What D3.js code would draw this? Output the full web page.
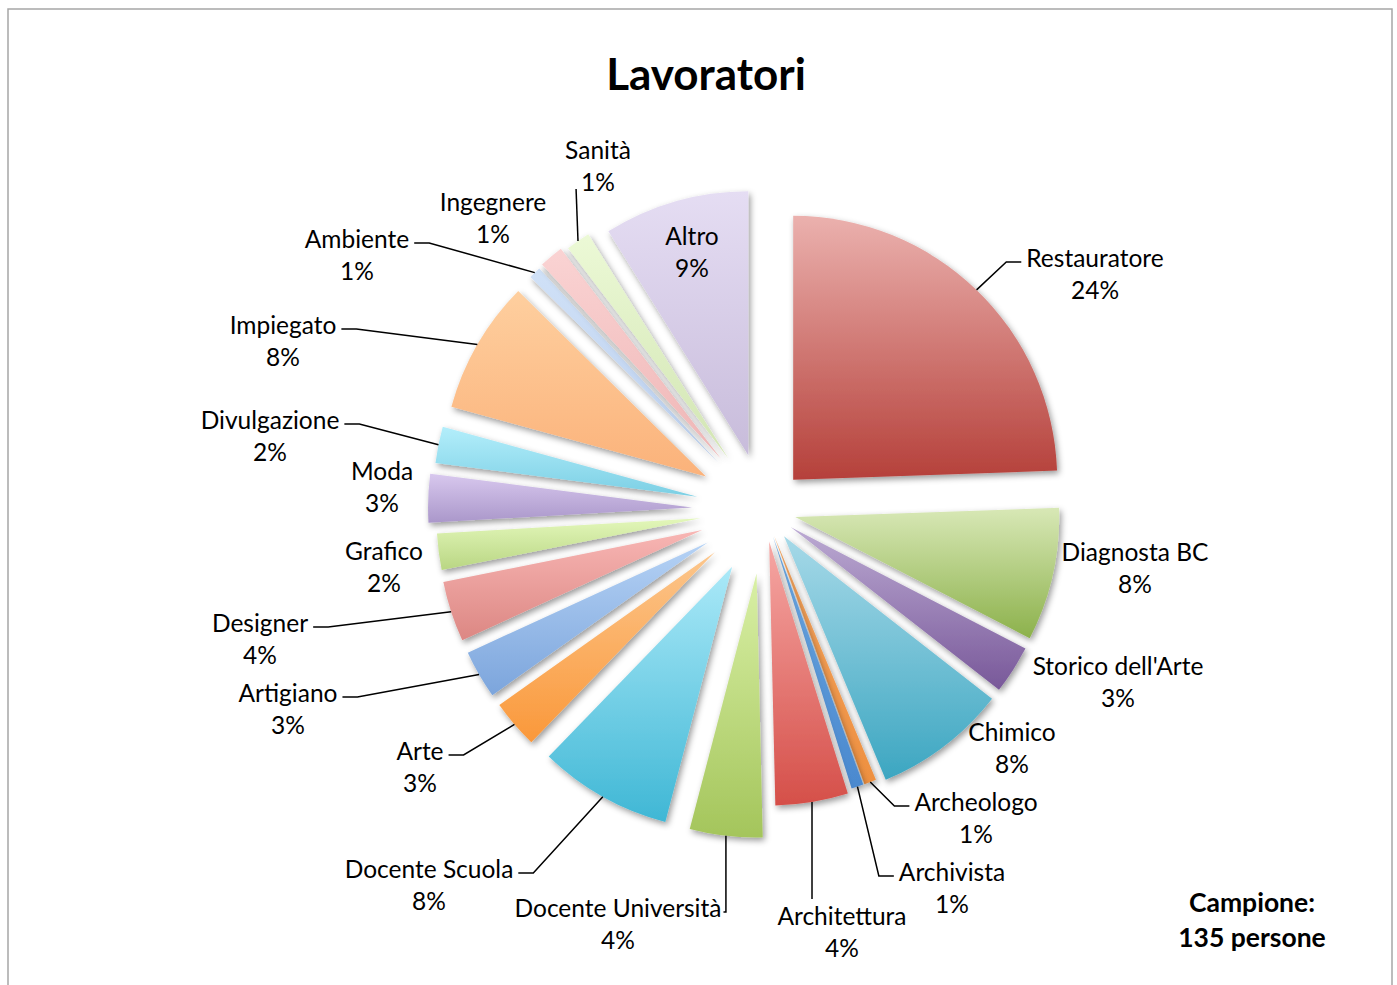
<!DOCTYPE html>
<html lang="it">
<head>
<meta charset="UTF-8">
<title>Lavoratori</title>
<script src="https://d3js.org/d3.v7.min.js"></script>
<style>
  body { margin: 0; background: #fff; }
  svg { display: block; font-family: Lato, "Open Sans", sans-serif; }
</style>
</head>
<body>
<div id="chart"></div>
<script>
// data (counts, sample = 135)
const categories = ["Restauratore", "Diagnosta BC", "Storico dell'Arte", "Chimico", "Archeologo",
  "Archivista", "Architettura", "Docente Università", "Docente Scuola", "Arte", "Artigiano",
  "Designer", "Grafico", "Moda", "Divulgazione", "Impiegato", "Ambiente", "Ingegnere", "Sanità", "Altro"];
const counts = [33, 11, 4, 11, 1, 1, 6, 6, 11, 4, 4, 5, 3, 4, 3, 11, 1, 2, 2, 12];
const titleText = "Lavoratori";
const noteLines = ["Campione:", "135 persone"];

// style
const topColors = ["#ebb1ae", "#d8e8b6", "#bcaad3", "#a6d9e8", "#f4a560", "#6aa6df", "#f6a7a4",
  "#d9f0a6", "#abe9f8", "#fcc68c", "#b5d2f5", "#f8b6b4", "#e3f7ba", "#d8c8ee", "#b3eefb",
  "#fecf9f", "#d0e1f7", "#fad3d3", "#ecf9d6", "#e5ddf3"];
const bottomColors = ["#b5403a", "#8cb14b", "#785899", "#3ca6c1", "#ee9040", "#4b89cf", "#d54f49",
  "#a4c55b", "#3fb7d5", "#fa983a", "#7ca5dc", "#dc8783", "#b9d683", "#aa97ca", "#7bcfe4",
  "#fbb27a", "#bbcfee", "#efb6b6", "#d2e5b3", "#c8bcdb"];
// per-slice explosion (px), as set in the original chart
const explode = [42, 32, 32, 33, 28, 28, 32, 64, 65, 65, 65, 65, 64, 72, 68, 67, 66, 67, 63, 57];
// label block centres (first line) and leader attachment side
const labelPos = [[1095, 259], [1135, 553], [1118, 667], [1012, 733], [976, 803], [952, 873],
  [842, 917], [618, 909], [429, 870], [420, 752], [288, 694], [260, 624], [384, 552], [382, 472],
  [270, 421], [283, 326], [357, 240], [493, 203], [598, 151], [692, 237]];
const leaderSide = ["L", null, null, null, "L", "L", "T", "R", "R", "R", "R", "R", null, null,
  "R", "R", "R", null, "B", null];

const W = 1397, H = 985;
const cx = 764, cy = 510, radius = 264;
const lineGap = 32;

const svg = d3.select("#chart").append("svg")
  .attr("width", W).attr("height", H);

const defs = svg.append("defs");
defs.append("filter").attr("id", "shadow")
  .attr("x", "-30%").attr("y", "-30%").attr("width", "160%").attr("height", "160%")
  .append("feDropShadow")
  .attr("dx", 2).attr("dy", 3).attr("stdDeviation", 3)
  .attr("flood-color", "#000").attr("flood-opacity", 0.4);

categories.forEach((c, i) => {
  const g = defs.append("linearGradient").attr("id", "grad" + i)
    .attr("x1", 0).attr("y1", 0).attr("x2", 0).attr("y2", 1);
  g.append("stop").attr("offset", "0%").attr("stop-color", topColors[i]);
  g.append("stop").attr("offset", "100%").attr("stop-color", bottomColors[i]);
});

svg.append("rect")
  .attr("x", 8).attr("y", 9).attr("width", 1384).attr("height", 1000)
  .attr("fill", "#fff").attr("stroke", "#a6a6a6").attr("stroke-width", 1.5);

svg.append("text")
  .attr("x", 706).attr("y", 90)
  .attr("text-anchor", "middle")
  .attr("font-size", 44).attr("font-weight", "bold")
  .text(titleText);

const total = d3.sum(counts);
const pie = d3.pie().sort(null).value(d => d);
const arcs = pie(counts);
const arc = d3.arc().innerRadius(0).outerRadius(radius);

const offset = (d, i) => {
  const m = (d.startAngle + d.endAngle) / 2;
  return [cx + explode[i] * Math.sin(m), cy - explode[i] * Math.cos(m)];
};

const slices = svg.append("g");
slices.selectAll("path")
  .data(arcs)
  .join("path")
  .attr("transform", (d, i) => `translate(${offset(d, i)})`)
  .attr("d", arc)
  .attr("fill", (d, i) => `url(#grad${i})`)
  .attr("filter", "url(#shadow)");

// labels
const labels = svg.append("g").attr("font-size", 24.5).attr("fill", "#000");
const leaders = svg.append("g").attr("fill", "none").attr("stroke", "#000").attr("stroke-width", 1.5);

arcs.forEach((d, i) => {
  const [lx, ly] = labelPos[i];
  const pct = Math.round(d.value / total * 100) + "%";
  const t1 = labels.append("text").attr("x", lx).attr("y", ly + 8)
    .attr("text-anchor", "middle").text(categories[i]);
  const t2 = labels.append("text").attr("x", lx).attr("y", ly + 8 + lineGap)
    .attr("text-anchor", "middle").text(pct);

  const side = leaderSide[i];
  if (!side) return;
  const m = (d.startAngle + d.endAngle) / 2;
  const [ox, oy] = offset(d, i);
  const end = [ox + radius * Math.sin(m), oy - radius * Math.cos(m)];
  const b1 = t1.node().getBBox();
  const b2 = t2.node().getBBox();
  let pts;
  if (side === "L") {
    const s = [b1.x - 5, ly + 3];
    pts = [s, [s[0] - 15, s[1]], end];
  } else if (side === "R") {
    const right = b1.x + b1.width;
    if (Math.abs(end[0] - right) < 15) {
      // leader drops straight down from the slice
      pts = [[right + 2, ly + 3], [end[0], ly + 3], end];
    } else {
      const s = [right + 5, ly + 3];
      pts = [s, [s[0] + 15, s[1]], end];
    }
  } else if (side === "T") {
    pts = [[end[0], b1.y - 2], end];
  } else if (side === "B") {
    pts = [[b2.x - 5, ly + lineGap + 6], end];
  }
  leaders.append("path").attr("d", d3.line()(pts));
});

// sample note
const note = svg.append("g").attr("font-size", 26.5).attr("font-weight", "bold");
noteLines.forEach((s, i) => {
  note.append("text").attr("x", 1252).attr("y", 912 + i * 35)
    .attr("text-anchor", "middle").text(s);
});
</script>
</body>
</html>
